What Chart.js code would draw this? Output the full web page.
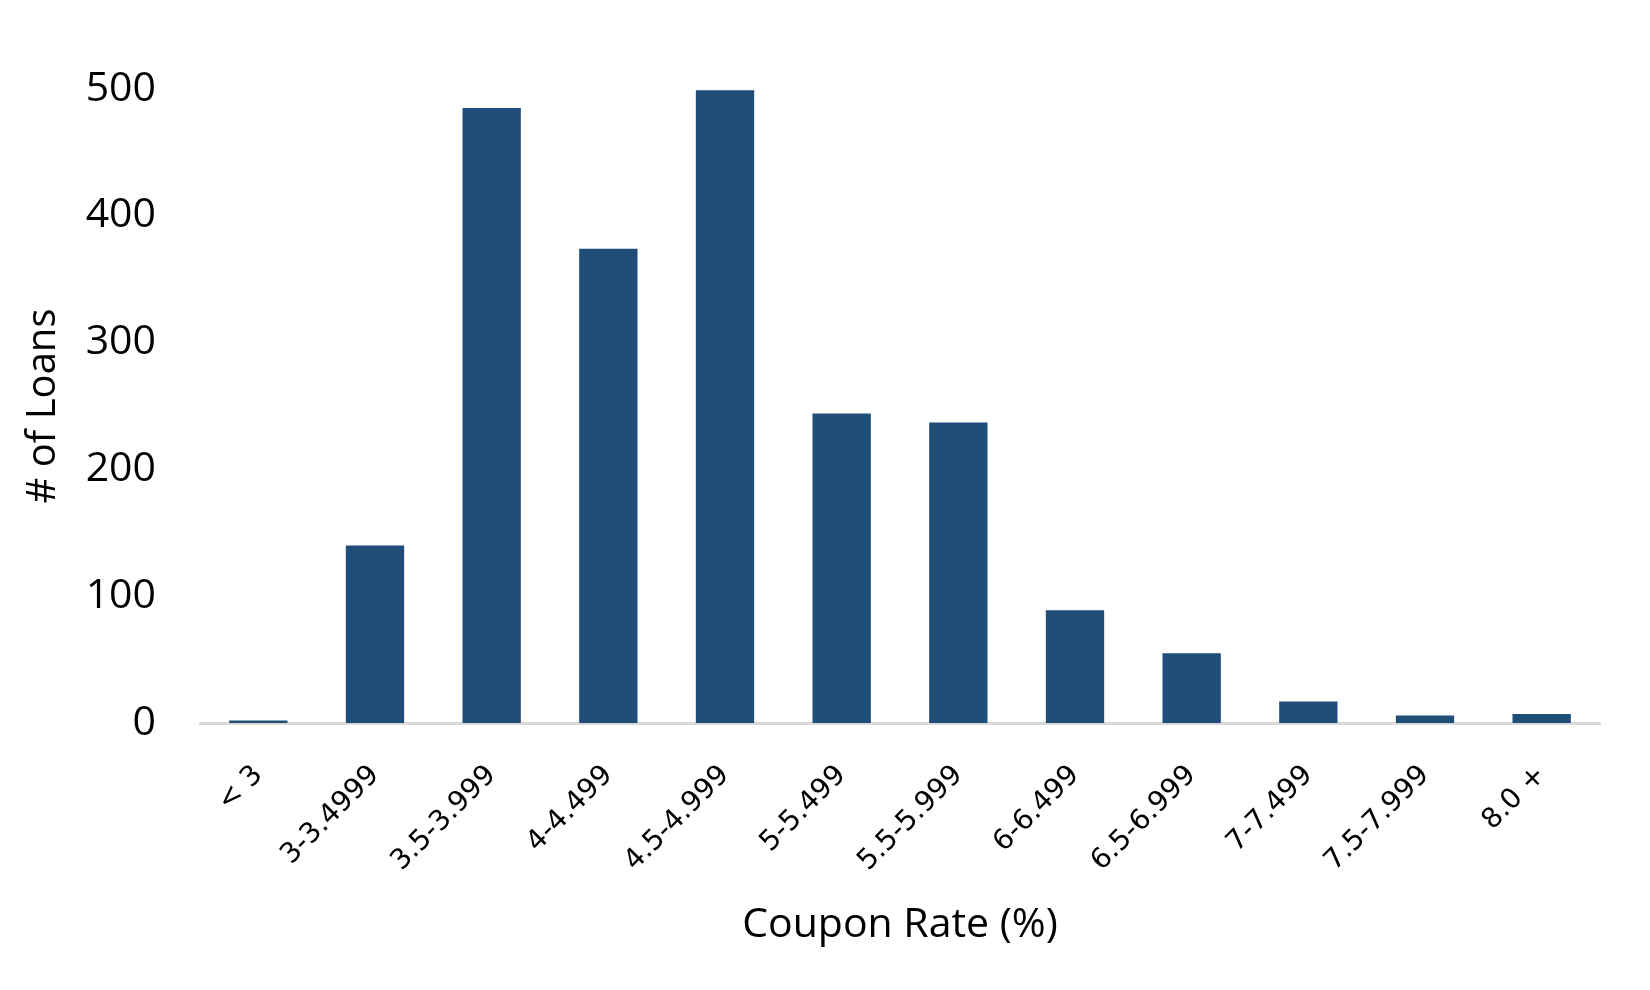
<!DOCTYPE html>
<html>
<head>
<meta charset="utf-8">
<script src="https://cdn.jsdelivr.net/npm/chart.js@4"></script>
<style>
  html, body { margin: 0; padding: 0; background: #fff; }
  #wrap { width: 1650px; height: 990px; }
</style>
</head>
<body>
<div id="wrap"><canvas id="loanChart" width="1650" height="990"></canvas></div>
<script>
const categories = ['< 3', '3-3.4999', '3.5-3.999', '4-4.499', '4.5-4.999', '5-5.499',
                    '5.5-5.999', '6-6.499', '6.5-6.999', '7-7.499', '7.5-7.999', '8.0 +'];
const loanCounts = [2, 140, 485, 374, 499, 244, 237, 89, 55, 17, 6, 7];
const yTicks = [0, 100, 200, 300, 400, 500];

const ctx = document.getElementById('loanChart').getContext('2d');
new Chart(ctx, {
    type: 'bar',
    data: {
        labels: categories,
        datasets: [{
            label: '# of Loans',
            data: loanCounts,
            backgroundColor: '#1f4e79',
            barPercentage: 0.5,
            categoryPercentage: 1
        }]
    },
    options: {
        responsive: false,
        animation: false,
        layout: { padding: { top: 89, right: 50, left: 0, bottom: 0 } },
        plugins: { legend: { display: false }, tooltip: { enabled: false } },
        scales: {
            x: {
                grid: { display: false },
                border: { display: true, color: '#d9d9d9', width: 3 },
                ticks: {
                    color: '#000',
                    font: { family: 'DejaVu Sans', size: 28 },
                    maxRotation: 45, minRotation: 45,
                    padding: 28
                },
                title: {
                    display: true, text: 'Coupon Rate (%)', color: '#000',
                    font: { family: 'Open Sans', size: 41 },
                    padding: { top: 0, bottom: 40 }
                },
                afterFit: (axis) => { axis.height = 267; }
            },
            y: {
                min: 0, max: 500,
                afterBuildTicks: (axis) => { axis.ticks = yTicks.map(v => ({ value: v })); },
                grid: { display: false, drawTicks: false },
                border: { display: false },
                ticks: {
                    color: '#000',
                    font: { family: 'Open Sans', size: 41 },
                    padding: 44
                },
                title: {
                    display: true, text: '# of Loans', color: '#000',
                    font: { family: 'Open Sans', size: 40 },
                    padding: { top: 20, bottom: 0 }
                },
                afterFit: (axis) => { axis.width = 200; }
            }
        }
    }
});
</script>
</body>
</html>
